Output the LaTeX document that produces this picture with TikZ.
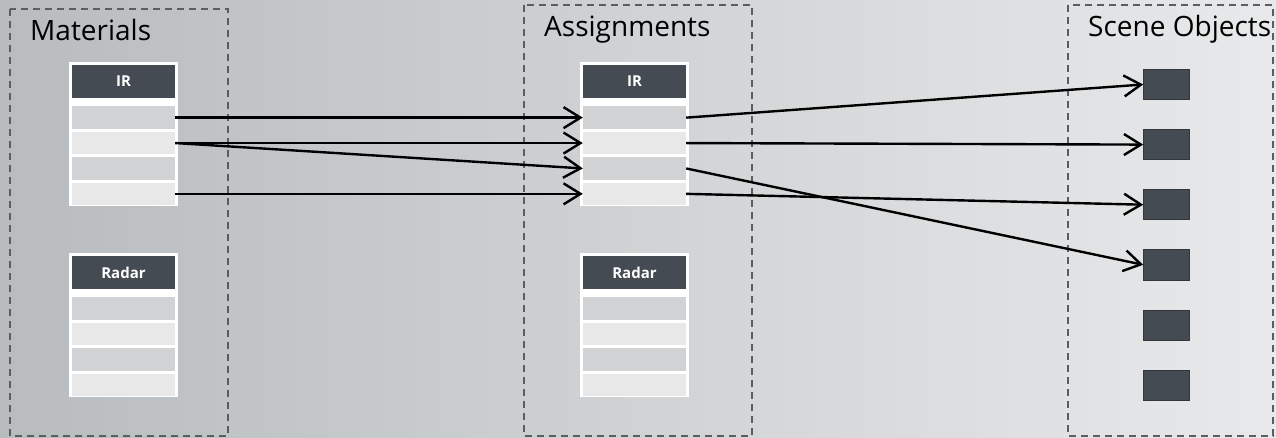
\documentclass[tikz,border=0pt]{standalone}
\usepackage{fontspec}
\setmainfont{Open Sans}
\setsansfont{Open Sans}
\usepackage{xcolor}
\usepackage{tikz}
\usetikzlibrary{arrows.meta,positioning}
\definecolor{bgleft}{HTML}{B8BCBF}
\definecolor{bgright}{HTML}{E8E9EA}
\definecolor{dashgrey}{HTML}{5A5D61}
\definecolor{headdark}{HTML}{454B52}
\definecolor{rowdark}{HTML}{D1D2D3}
\definecolor{rowlight}{HTML}{E8E8E8}
\definecolor{objedge}{HTML}{33373C}

\begin{document}
\begin{tikzpicture}[
  x=1pt,y=-1pt,
  font=\sffamily,
  grp/.style={draw=dashgrey,dash pattern=on 7pt off 5pt,line width=1.4pt},
  ttl/.style={font=\sffamily\fontsize{28}{32}\selectfont,inner sep=0pt,anchor=base west},
  tbl/.style={fill=white,minimum width=109pt,minimum height=144pt,inner sep=0pt},
  hdr/.style={fill=headdark,text=white,font=\sffamily\bfseries\fontsize{15}{17}\selectfont,minimum width=103pt,minimum height=33pt,inner sep=0pt},
  cell/.style={minimum width=103pt,minimum height=22.5pt,inner sep=0pt},
  rowdk/.style={cell,fill=rowdark},
  rowlt/.style={cell,fill=rowlight},
  obj/.style={fill=headdark,draw=objedge,line width=0.6pt,minimum width=46pt,minimum height=30pt,inner sep=0pt},
  link/.style={-{Straight Barb[length=17pt,width=21pt,line width=2.4pt]},line width=2.4pt}]
% background and bounding box
\shade[left color=bgleft,right color=bgright] (0,0) rectangle (1276,438);
\useasboundingbox (0,0) rectangle (1276,438);
% groups
\draw[grp] (10,9) rectangle (228,436);
\draw[grp] (524,5) rectangle (752,436);
\draw[grp] (1068,5) rectangle (1273,436);
\node[ttl] (tmat) at (30,41) {Materials};
\node[ttl] (tasg) at (544,37) {Assignments};
\node[ttl] (tobj) at (1088,37) {Scene Objects};
% materials: IR
\node[tbl] (mir) at (123.5,134) {};
\node[hdr,below=3pt of mir.north] (mirh) {IR};
\node[rowdk,below=8pt of mirh] (m1) {};
\node[rowlt,below=2.5pt of m1] (m2) {};
\node[rowdk,below=2.5pt of m2] (m3) {};
\node[rowlt,below=2.5pt of m3] (m4) {};
% materials: Radar
\node[tbl] (mrd) at (123.5,325) {};
\node[hdr,below=3pt of mrd.north] (mrdh) {Radar};
\node[rowdk,below=8pt of mrdh] (mr1) {};
\node[rowlt,below=2.5pt of mr1] (mr2) {};
\node[rowdk,below=2.5pt of mr2] (mr3) {};
\node[rowlt,below=2.5pt of mr3] (mr4) {};
% assignments: IR
\node[tbl] (air) at (634.5,134) {};
\node[hdr,below=3pt of air.north] (airh) {IR};
\node[rowdk,below=8pt of airh] (a1) {};
\node[rowlt,below=2.5pt of a1] (a2) {};
\node[rowdk,below=2.5pt of a2] (a3) {};
\node[rowlt,below=2.5pt of a3] (a4) {};
% assignments: Radar
\node[tbl] (ard) at (634.5,325) {};
\node[hdr,below=3pt of ard.north] (ardh) {Radar};
\node[rowdk,below=8pt of ardh] (ar1) {};
\node[rowlt,below=2.5pt of ar1] (ar2) {};
\node[rowdk,below=2.5pt of ar2] (ar3) {};
\node[rowlt,below=2.5pt of ar3] (ar4) {};
% scene objects
\node[obj] (s1) at (1166.5,84.5) {};
\node[obj,below=29.5pt of s1] (s2) {};
\node[obj,below=29.5pt of s2] (s3) {};
\node[obj,below=29.5pt of s3] (s4) {};
\node[obj,below=29.5pt of s4] (s5) {};
\node[obj,below=29.5pt of s5] (s6) {};
% links
\draw[link] (m1.east) -- (a1.west);
\draw[link] (m2.east) -- (a2.west);
\draw[link] (m2.east) -- (a3.west);
\draw[link] (m4.east) -- (a4.west);
\draw[link] (a1.east) -- (s1.west);
\draw[link] (a2.east) -- (s2.west);
\draw[link] (a3.east) -- (s4.west);
\draw[link] (a4.east) -- (s3.west);
\end{tikzpicture}
\end{document}
